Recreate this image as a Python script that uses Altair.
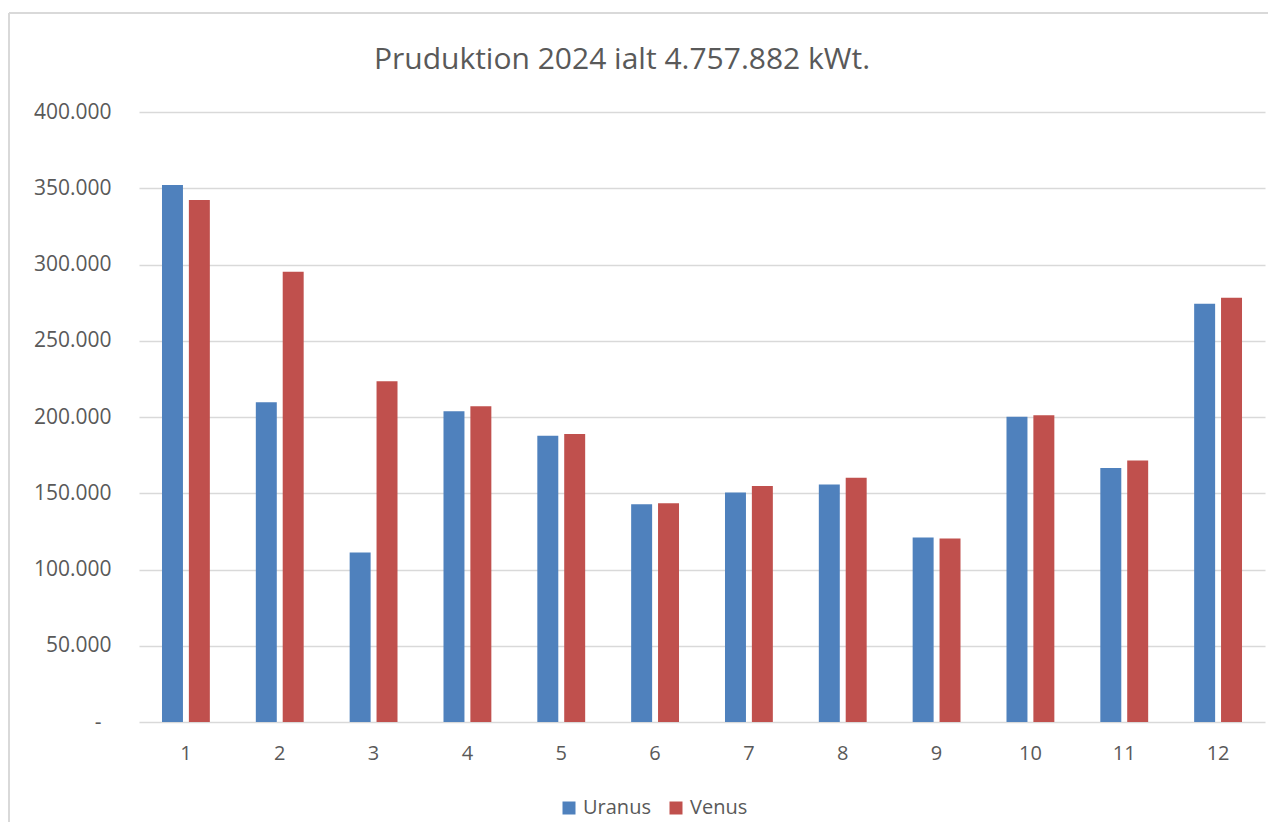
import altair as alt
import pandas as pd

months = [str(i) for i in range(1, 13)]
uranus = [352200, 209600, 111200, 203700, 187700, 142800, 150500, 155800, 121000, 200100, 166500, 274300]
venus = [342300, 295300, 223400, 207000, 188800, 143500, 154700, 160100, 120300, 201200, 171500, 278200]
series = ["Uranus", "Venus"]
colors = ["#4F81BD", "#C0504D"]
y_ticks = [0, 50000, 100000, 150000, 200000, 250000, 300000, 350000, 400000]
title_text = "Pruduktion 2024 ialt 4.757.882 kWt."

rows = []
for m, u, v in zip(months, uranus, venus):
    rows.append({"Måned": m, "Serie": "Uranus", "kWt": u})
    rows.append({"Måned": m, "Serie": "Venus", "kWt": v})
df = pd.DataFrame(rows)

FONT = "Open Sans"
TXT = "#595959"

bars = alt.Chart(df).mark_bar().encode(
    x=alt.X("Måned:N", sort=months, title=None,
            scale=alt.Scale(paddingInner=0.49, paddingOuter=0.245),
            axis=alt.Axis(labelAngle=0, ticks=False, domain=False, grid=False,
                          labelFontSize=20, labelColor=TXT, labelFont=FONT, labelPadding=21)),
    xOffset=alt.XOffset("Serie:N", sort=series,
                        scale=alt.Scale(paddingInner=0.22, paddingOuter=0)),
    y=alt.Y("kWt:Q", title=None,
            scale=alt.Scale(domain=[0, 400000], nice=False),
            axis=alt.Axis(values=y_ticks, ticks=False, domain=False,
                          gridColor="#d9d9d9", gridWidth=1.5,
                          labelFontSize=21, labelColor=TXT, labelFont=FONT,
                          labelPadding={"condition": {"test": "datum.value == 0", "value": 38}, "value": 28},
                          labelExpr="datum.value == 0 ? '-' : replace(format(datum.value, ',.0f'), ',', '.')")),
    color=alt.Color("Serie:N", sort=series,
                    scale=alt.Scale(domain=series, range=colors),
                    legend=alt.Legend(title=None, orient="none", direction="horizontal",
                                      legendX=420, legendY=686,
                                      symbolType="square", symbolSize=169, symbolStrokeWidth=0,
                                      labelFontSize=20, labelColor=TXT, labelFont=FONT,
                                      labelOffset=4, columnPadding=15)),
)

one = pd.DataFrame({"t": [title_text]})
title = alt.Chart(one).mark_text(fontSize=30, font=FONT, color=TXT, align="center",
                                 baseline="alphabetic").encode(
    text="t:N", x=alt.value(483), y=alt.value(-43))

border_left = alt.Chart(one).mark_rule(color="#d9d9d9", strokeWidth=2).encode(
    x=alt.value(-130), y=alt.value(-99), y2=alt.value(760))
border_top = alt.Chart(one).mark_rule(color="#d9d9d9", strokeWidth=2).encode(
    x=alt.value(-130), x2=alt.value(1140), y=alt.value(-99))

chart = alt.layer(border_left, border_top, title, bars).properties(
    width=1126, height=610,
    autosize=alt.AutoSizeParams(type="none"),
    padding={"left": 131, "top": 104, "right": 3, "bottom": 100},
).configure_view(stroke=None)

chart.save("out.html", embed_options={"renderer": "svg", "actions": False})
